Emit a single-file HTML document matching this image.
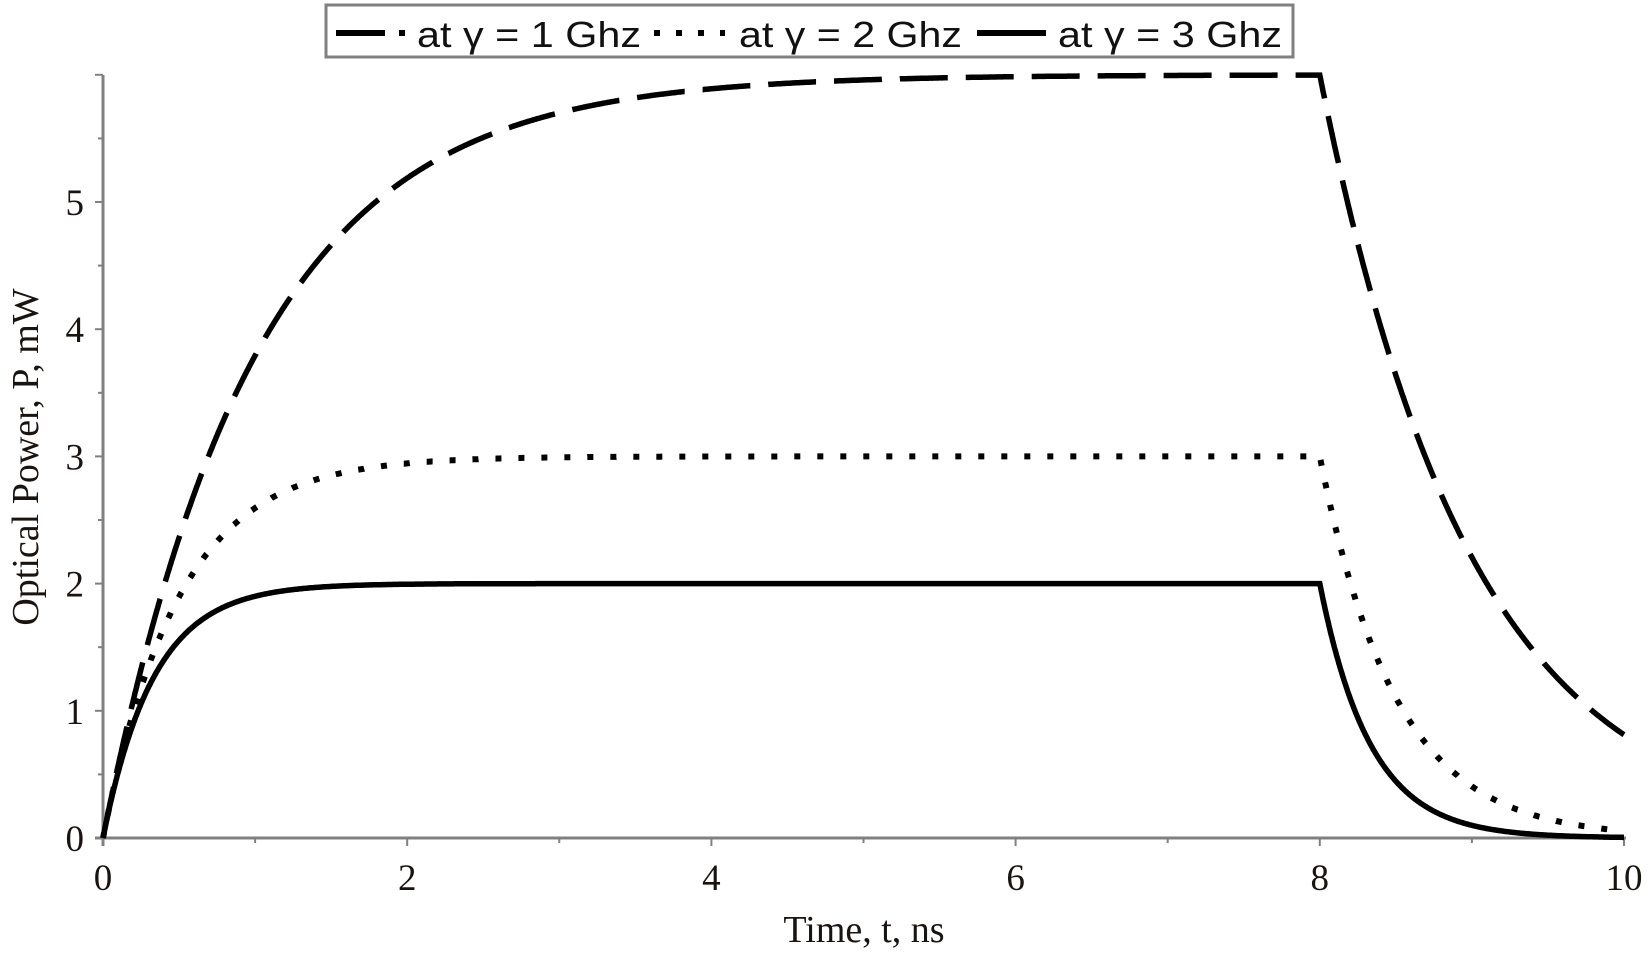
<!DOCTYPE html>
<html><head><meta charset="utf-8"><style>
html,body{margin:0;padding:0;background:#fff;}
svg{display:block;}
</style></head><body>
<svg id="s" width="1648" height="958" xmlns="http://www.w3.org/2000/svg">
<rect width="1648" height="958" fill="#fff"/>
<g id="ticks" stroke="#808080" stroke-width="2"></g>
<line x1="103" y1="75" x2="103" y2="846" stroke="#808080" stroke-width="3"/>
<line x1="95" y1="838" x2="1626" y2="838" stroke="#808080" stroke-width="3"/>
<g font-family="Liberation Serif, serif" font-size="37" fill="#1a1410">
<g id="xl" text-anchor="middle"></g>
<g id="yl" text-anchor="end"></g>
<text x="864" y="942" text-anchor="middle" font-size="38">Time, t, ns</text>
<text transform="translate(38,457) rotate(-90)" text-anchor="middle" font-size="38">Optical Power, P, mW</text>
</g>
<g fill="none" stroke="#000" stroke-width="5.5">
<path id="p1" stroke-dasharray="48 18"/>
<path id="p2" stroke-dasharray="6 17" stroke-width="6"/>
<path id="p3"/>
</g>
<rect x="326" y="5" width="967" height="52" fill="#fff" stroke="#808080" stroke-width="3"/>
<g stroke="#000" stroke-width="6">
<line x1="336" y1="33" x2="385" y2="33"/><line x1="399" y1="33" x2="405" y2="33"/>
<line x1="654" y1="33" x2="725" y2="33" stroke-dasharray="6 16"/>
<line x1="977" y1="33" x2="1046" y2="33"/>
</g>
<g font-family="Liberation Sans, sans-serif" font-size="36" fill="#111" lengthAdjust="spacingAndGlyphs">
<text x="417" y="47" textLength="224" lengthAdjust="spacingAndGlyphs">at γ = 1 Ghz</text>
<text x="739" y="47" textLength="223" lengthAdjust="spacingAndGlyphs">at γ = 2 Ghz</text>
<text x="1058" y="47" textLength="224" lengthAdjust="spacingAndGlyphs">at γ = 3 Ghz</text>
</g>
</svg>
<script>
var X0=103,SX=152.1,Y0=838,SY=127.2;
function px(t){return X0+t*SX} function py(v){return Y0-v*SY}
function f(g,t){var P=6/g; if(t<=8) return P*(1-Math.exp(-g*t)); return P*(1-Math.exp(-g*8))*Math.exp(-g*(t-8));}
[1,2,3].forEach(function(g){var d='';for(var i=0;i<=2000;i++){var t=i/200;d+=(i?'L':'M')+px(t).toFixed(1)+' '+py(f(g,t)).toFixed(1);}document.getElementById('p'+g).setAttribute('d',d);});
var ns='http://www.w3.org/2000/svg',tk=document.getElementById('ticks');
function ln(a,b,c,d){var l=document.createElementNS(ns,'line');l.setAttribute('x1',a);l.setAttribute('y1',b);l.setAttribute('x2',c);l.setAttribute('y2',d);tk.appendChild(l);}
function tx(id,x,y,s){var e=document.createElementNS(ns,'text');e.setAttribute('x',x);e.setAttribute('y',y);e.textContent=s;document.getElementById(id).appendChild(e);}
for(var i=0;i<=10;i++){var x=px(i);if(i%2==0){ln(x,838,x,846);tx('xl',x,890,i);}else ln(x,838,x,843);}
for(var j=0;j<=12;j++){var y=py(j/2);if(j%2==0){ln(95,y,103,y);if(j<=10)tx('yl',84,y+13,j/2);}else ln(98,y,103,y);}
</script>
</body></html>
